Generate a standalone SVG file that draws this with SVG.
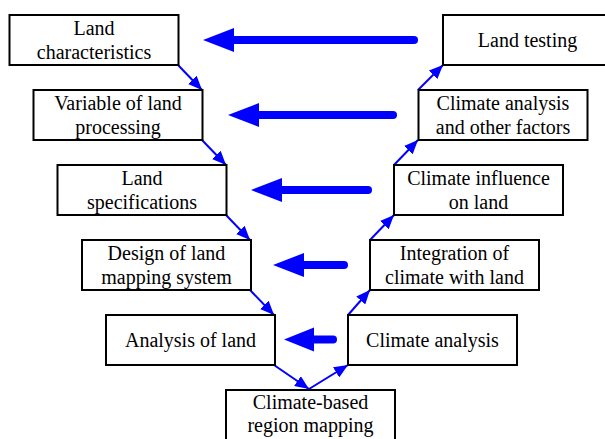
<svg xmlns="http://www.w3.org/2000/svg" width="605" height="439" viewBox="0 0 605 439">
<style>
.box{fill:#fff;stroke:#000;stroke-width:2}
.t{font-size:20px;fill:#000;text-anchor:middle}
.c{stroke:#0000ff;stroke-width:2;fill:none}
.big{stroke:#0000ff;stroke-width:8;stroke-linecap:round;fill:none}
.head{fill:#0000ff}
</style>
<defs>
<marker id="ah" markerUnits="userSpaceOnUse" markerWidth="16" markerHeight="12" refX="14" refY="6" orient="auto">
<path d="M0,0 L14,6 L0,12 z" fill="#0000ff"/>
</marker>
</defs>
<rect width="605" height="439" fill="#fff"/>
<g id="connectors">
<line class="c" x1="178" y1="65" x2="202" y2="90" marker-end="url(#ah)"/>
<line class="c" x1="202" y1="140" x2="226" y2="165" marker-end="url(#ah)"/>
<line class="c" x1="226" y1="215" x2="250" y2="240" marker-end="url(#ah)"/>
<line class="c" x1="250" y1="290" x2="274" y2="315" marker-end="url(#ah)"/>
<line class="c" x1="274" y1="365" x2="309" y2="389" marker-end="url(#ah)"/>
<line class="c" x1="309" y1="389" x2="348" y2="365" marker-end="url(#ah)"/>
<line class="c" x1="348" y1="315" x2="370" y2="290" marker-end="url(#ah)"/>
<line class="c" x1="370" y1="240" x2="394" y2="215" marker-end="url(#ah)"/>
<line class="c" x1="394" y1="165" x2="418" y2="140" marker-end="url(#ah)"/>
<line class="c" x1="418" y1="90" x2="443" y2="65" marker-end="url(#ah)"/>
<line class="big" x1="232" y1="40" x2="414" y2="40"/>
<polygon class="head" points="203,40 234,28 234,52"/>
<line class="big" x1="257" y1="115" x2="393" y2="115"/>
<polygon class="head" points="228,115 259,103 259,127"/>
<line class="big" x1="280" y1="190" x2="368" y2="190"/>
<polygon class="head" points="251,190 282,178 282,202"/>
<line class="big" x1="302" y1="265" x2="344" y2="265"/>
<polygon class="head" points="273,265 304,253 304,277"/>
<line class="big" x1="312" y1="339.5" x2="333" y2="339.5"/>
<polygon class="head" points="284,339.5 314,327.5 314,351.5"/>
</g>
<g font-family="Liberation Serif, Times New Roman, serif">
<g id="n-land-characteristics">
<rect class="box" x="9.5" y="15" width="169" height="50"/>
<text class="t" x="94" y="34.5">Land</text>
<text class="t" x="94" y="58.5">characteristics</text>
</g>
<g id="n-variable">
<rect class="box" x="33.5" y="90" width="169" height="50"/>
<text class="t" x="118" y="109.5">Variable of land</text>
<text class="t" x="118" y="133.5">processing</text>
</g>
<g id="n-specifications">
<rect class="box" x="57.5" y="165" width="169" height="50"/>
<text class="t" x="142" y="184.5">Land</text>
<text class="t" x="142" y="208.5">specifications</text>
</g>
<g id="n-design">
<rect class="box" x="82" y="240" width="169" height="50"/>
<text class="t" x="166.5" y="259.5">Design of land</text>
<text class="t" x="166.5" y="283.5">mapping system</text>
</g>
<g id="n-analysis-land">
<rect class="box" x="106" y="315" width="169" height="50"/>
<text class="t" x="190.5" y="346.5">Analysis of land</text>
</g>
<g id="n-climate-based">
<rect class="box" x="226" y="390" width="169" height="50"/>
<text class="t" x="310.5" y="409">Climate-based</text>
<text class="t" x="310.5" y="432">region mapping</text>
</g>
<g id="n-land-testing">
<rect class="box" x="443" y="15" width="169" height="50"/>
<text class="t" x="527.5" y="46.5">Land testing</text>
</g>
<g id="n-climate-other">
<rect class="box" x="418.5" y="90" width="169" height="50"/>
<text class="t" x="503" y="109.5">Climate analysis</text>
<text class="t" x="503" y="133.5">and other factors</text>
</g>
<g id="n-climate-influence">
<rect class="box" x="394" y="165" width="169" height="50"/>
<text class="t" x="478.5" y="184.5">Climate influence</text>
<text class="t" x="478.5" y="208.5">on land</text>
</g>
<g id="n-integration">
<rect class="box" x="370" y="240" width="169" height="50"/>
<text class="t" x="454.5" y="259.5">Integration of</text>
<text class="t" x="454.5" y="283.5">climate with land</text>
</g>
<g id="n-climate-analysis">
<rect class="box" x="348" y="315" width="169" height="50"/>
<text class="t" x="432.5" y="346.5">Climate analysis</text>
</g>
</g>
</svg>
